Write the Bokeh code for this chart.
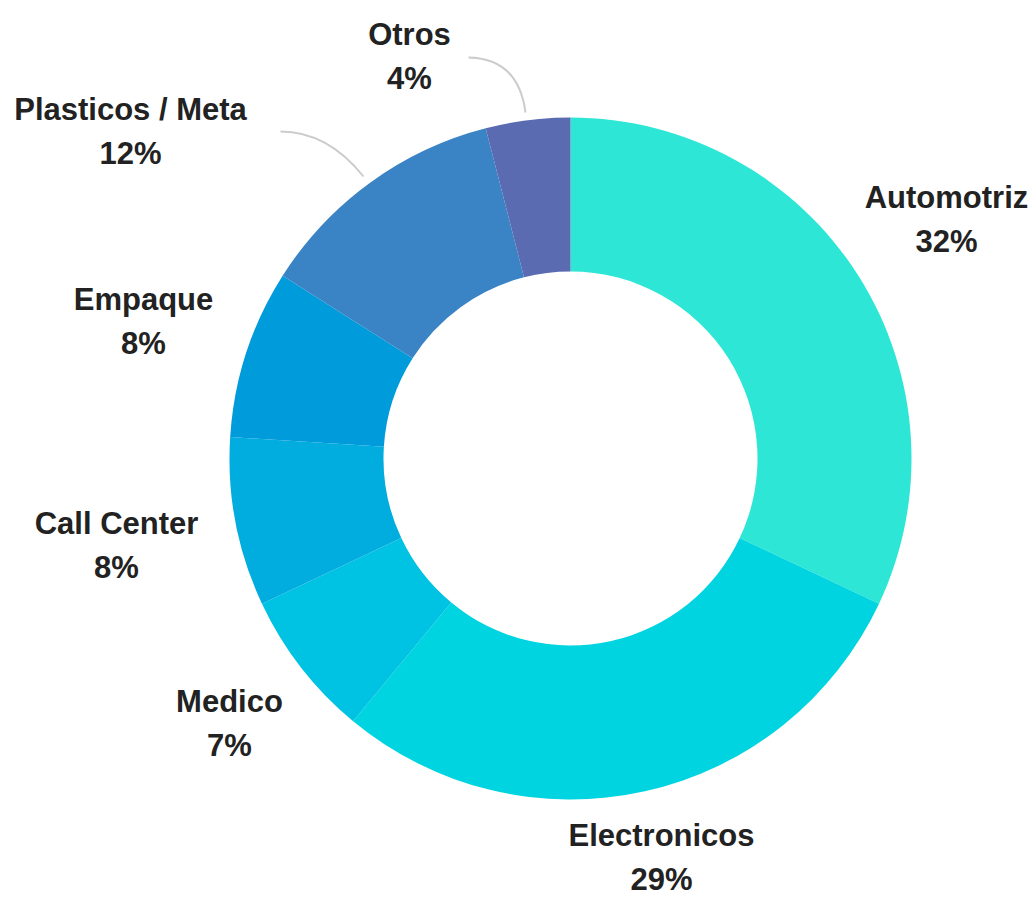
import math
from bokeh.plotting import figure
from bokeh.models import Range1d, ColumnDataSource
from bokeh.core.properties import value
from bokeh.embed import file_html
from bokeh.resources import INLINE

# ---- data ----
categories = ["Automotriz", "Electronicos", "Medico", "Call Center", "Empaque", "Plasticos / Meta", "Otros"]
shares = [32, 29, 7, 8, 8, 12, 4]
colors = ["#2EE6D6", "#00D4E0", "#00C2E2", "#00ADDE", "#009BDB", "#3A84C6", "#5B6BB2"]

# ---- layout (page pixel coordinates, y measured downward) ----
W, H = 1032, 897
CX, CY = 570, 458
R_OUT, R_IN = 341, 187
label_cx = [946, 661, 229, 116, 143, 130, 409]
label_base = [197, 835, 701, 523, 299, 109, 34]
LINE_GAP = 44

def fy(ypix):
    return H - ypix

p = figure(width=W, height=H, output_backend="svg", toolbar_location=None,
           x_range=Range1d(0, W), y_range=Range1d(0, H),
           x_axis_type=None, y_axis_type=None, min_border=0,
           background_fill_color="white", border_fill_color="white")
p.grid.visible = False
p.outline_line_color = None

total = sum(shares)
starts, ends = [], []
cum = 0
for v in shares:
    a0 = math.pi / 2 - 2 * math.pi * cum / total
    cum += v
    a1 = math.pi / 2 - 2 * math.pi * cum / total
    starts.append(a1)
    ends.append(a0)

src = ColumnDataSource(dict(start=starts, end=ends, color=colors))
p.annular_wedge(x=CX, y=fy(CY), inner_radius=R_IN, outer_radius=R_OUT,
                start_angle="start", end_angle="end", fill_color="color",
                line_color=None, source=src)

# connector lines for small top slices
p.quadratic(x0=[468, 280], y0=[fy(57), fy(131)], x1=[525, 363], y1=[fy(112), fy(176)],
            cx=[518, 327], cy=[fy(58), fy(131)], line_color="#CCCCCC", line_width=2)

pct = [f"{v}%" for v in shares]
p.text(x=label_cx, y=[fy(b) for b in label_base], text=categories,
       text_font=value("Liberation Sans"), text_font_style="bold", text_font_size="31px",
       text_color="#222222", text_align="center", text_baseline="alphabetic")
p.text(x=label_cx, y=[fy(b + LINE_GAP) for b in label_base], text=pct,
       text_font=value("Liberation Sans"), text_font_style="bold", text_font_size="31px",
       text_color="#222222", text_align="center", text_baseline="alphabetic")

open("out.html", "w").write(file_html(p, INLINE))
